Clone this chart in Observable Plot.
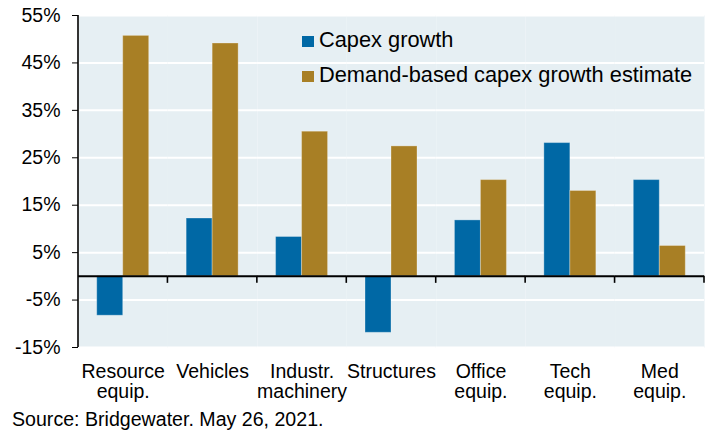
<!DOCTYPE html>
<html>
<head>
<meta charset="utf-8">
<script src="https://cdn.jsdelivr.net/npm/d3@7"></script>
<script src="https://cdn.jsdelivr.net/npm/@observablehq/plot@0.6"></script>
<style>
  html, body { margin: 0; padding: 0; background: #fff; }
  #wrap { position: relative; width: 714px; height: 435px; font-family: Arial, "Liberation Sans", sans-serif; color: #000; }
  #wrap svg { display: block; }
  #legend { position: absolute; left: 302px; top: 28px; font-size: 21.8px; line-height: 24px; }
  #legend .row { white-space: nowrap; height: 35.3px; }
  #legend .sw { display: inline-block; width: 12px; height: 11px; margin-right: 5px; }
  #caption { position: absolute; left: 12px; top: 407px; font-size: 19.6px; line-height: 24px; }
</style>
</head>
<body>
<div id="wrap">
  <div id="chart"></div>
  <div id="legend"></div>
  <div id="caption"></div>
</div>
<script>
// ---- data ----
const categories = ["Resource equip.", "Vehicles", "Industr. machinery", "Structures", "Office equip.", "Tech equip.", "Med equip."];
const categoryLabels = ["Resource\nequip.", "Vehicles", "Industr.\nmachinery", "Structures", "Office\nequip.", "Tech\nequip.", "Med\nequip."];
const series = ["Capex growth", "Demand-based capex growth estimate"];
const capexGrowth = [-8.3, 12.2, 8.3, -11.9, 11.8, 28.1, 20.3];
const demandEstimate = [50.7, 49.1, 30.5, 27.4, 20.3, 18.0, 6.4];
const yTicks = [-15, -5, 5, 15, 25, 35, 45, 55];
const colors = ["#0068a5", "#a87f25"];
const caption = "Source: Bridgewater. May 26, 2021.";

// table built from the arrays
const rows = [];
categories.forEach((c, i) => {
  rows.push({category: c, series: series[0], value: capexGrowth[i]});
  rows.push({category: c, series: series[1], value: demandEstimate[i]});
});
const labelOf = new Map(categories.map((c, i) => [c, categoryLabels[i]]));

const chart = Plot.plot({
  width: 714,
  height: 405,
  marginLeft: 78,
  marginRight: 10,
  marginTop: 15,
  marginBottom: 58,
  style: {fontSize: "19.5px", fontFamily: "Arial, 'Liberation Sans', sans-serif", color: "#000", background: "transparent", overflow: "visible"},
  fx: {domain: categories, padding: 0, round: false, label: null},
  x: {domain: series, paddingInner: 0, paddingOuter: 0.72, round: false, axis: null},
  y: {domain: [-15, 55], label: null},
  color: {domain: series, range: colors},
  marks: [
    Plot.frame({fill: "#e6eff3", stroke: null}),
    Plot.gridY(yTicks, {stroke: "#ffffff", strokeOpacity: 1, strokeWidth: 2}),
    Plot.barY(rows, {fx: "category", x: "series", y: "value", fill: "series", stroke: "#ffffff", strokeOpacity: 0.3, strokeWidth: 1}),
    Plot.ruleY([0], {stroke: "#000", strokeWidth: 2}),
    Plot.axisY({ticks: yTicks, tickFormat: d => d + "%", tickSize: 6, tickPadding: 12, label: null, stroke: "#000"}),
    Plot.axisFx({anchor: "bottom", tickSize: 0, tickPadding: 16, lineHeight: 1.03, tickFormat: d => labelOf.get(d), label: null})
  ]
});
document.getElementById("chart").appendChild(chart);

// y-axis line and category boundary ticks via the chart's own scales
const fx = chart.scale("fx");
const ys = chart.scale("y");
const svg = d3.select(chart);
const g = svg.append("g").attr("stroke", "#000").attr("stroke-width", 1.6);
const x0 = fx.apply(categories[0]);
g.append("line").attr("x1", x0).attr("x2", x0).attr("y1", ys.apply(55)).attr("y2", ys.apply(-15));
categories.forEach(c => {
  const xb = fx.apply(c) + fx.bandwidth;
  g.append("line").attr("x1", xb).attr("x2", xb).attr("y1", ys.apply(0)).attr("y2", ys.apply(0) + 7);
});

// legend
const legend = d3.select("#legend");
series.forEach((s, i) => {
  const row = legend.append("div").attr("class", "row");
  row.append("span").attr("class", "sw").style("background", colors[i]);
  row.append("span").text(s);
});
document.getElementById("caption").textContent = caption;
</script>
</body>
</html>
